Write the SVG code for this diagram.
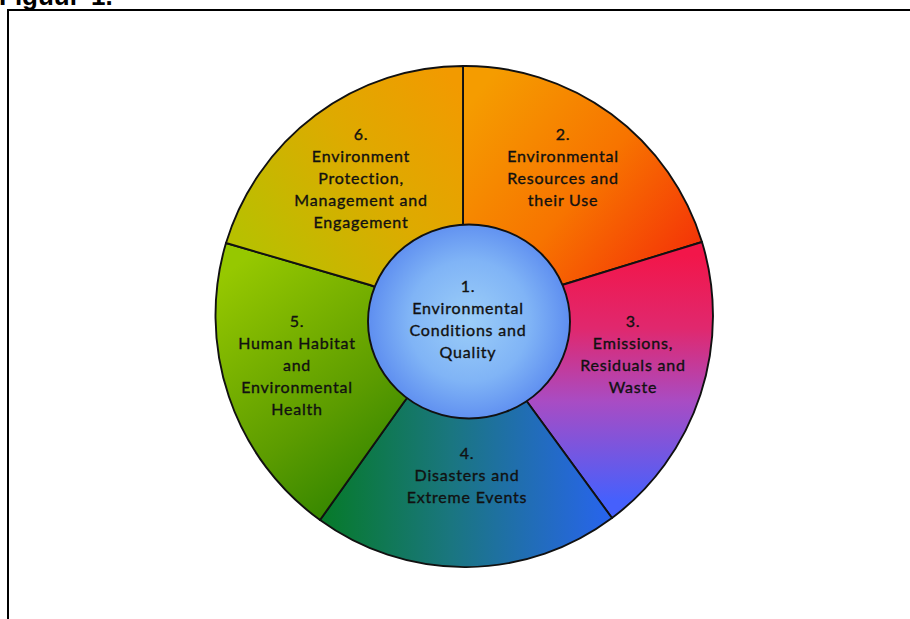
<svg xmlns="http://www.w3.org/2000/svg" width="910" height="619" viewBox="0 0 910 619">
<style>
.seg{stroke:#111;stroke-width:1.9;stroke-linejoin:round}
.lbl{font-family:Lato,"Open Sans",sans-serif;font-size:16px;letter-spacing:0.8px;fill:#111;stroke:#111;stroke-width:0.35px;text-anchor:middle}
.title{font-family:"Liberation Sans",Arial,sans-serif;font-weight:bold;font-size:26px;fill:#000}
</style>
<defs>
<linearGradient id="g2" gradientUnits="userSpaceOnUse" x1="480" y1="90" x2="700" y2="270">
<stop offset="0" stop-color="#f59c00"/><stop offset="0.5" stop-color="#f77400"/><stop offset="1" stop-color="#f42c08"/>
</linearGradient>
<linearGradient id="g3" gradientUnits="userSpaceOnUse" x1="0" y1="255" x2="0" y2="500">
<stop offset="0" stop-color="#f2164a"/><stop offset="0.3" stop-color="#e0286e"/><stop offset="0.6" stop-color="#a84cc4"/><stop offset="1" stop-color="#4660fc"/>
</linearGradient>
<linearGradient id="g4" gradientUnits="userSpaceOnUse" x1="320" y1="0" x2="612" y2="0">
<stop offset="0" stop-color="#067a28"/><stop offset="0.45" stop-color="#1a7680"/><stop offset="1" stop-color="#2864ee"/>
</linearGradient>
<linearGradient id="g5" gradientUnits="userSpaceOnUse" x1="230" y1="270" x2="400" y2="500">
<stop offset="0" stop-color="#96c800"/><stop offset="0.6" stop-color="#5c9c00"/><stop offset="1" stop-color="#2a8000"/>
</linearGradient>
<linearGradient id="g6" gradientUnits="userSpaceOnUse" x1="250" y1="250" x2="460" y2="90">
<stop offset="0" stop-color="#b8c000"/><stop offset="0.55" stop-color="#deaa00"/><stop offset="1" stop-color="#f29a00"/>
</linearGradient>
<radialGradient id="g1" gradientUnits="userSpaceOnUse" cx="469" cy="321" r="101">
<stop offset="0" stop-color="#9ccef8"/><stop offset="0.6" stop-color="#80b4f6"/><stop offset="1" stop-color="#5e8ef0"/>
</radialGradient>
</defs>
<text class="title" x="-1" y="5">Figuur<tspan x="91">1.</tspan></text>
<path d="M8 625 L8 10 L915 10" fill="none" stroke="#000" stroke-width="2"/>
<g id="connectors"></g>
<g id="node2"><path class="seg" fill="url(#g2)" d="M466 320 L463 224 L463 66 A248 251 0 0 1 702 242 L562 285 Z"/>
<text class="lbl"><tspan x="563" y="140">2.</tspan><tspan x="563" y="162">Environmental</tspan><tspan x="563" y="184">Resources and</tspan><tspan x="563" y="206">their Use</tspan></text></g>
<g id="node3"><path class="seg" fill="url(#g3)" d="M466 320 L562 285 L702 242 A248 251 0 0 1 612 518 L528 403 Z"/>
<text class="lbl"><tspan x="633" y="327">3.</tspan><tspan x="633" y="349">Emissions,</tspan><tspan x="633" y="371">Residuals and</tspan><tspan x="633" y="393">Waste</tspan></text></g>
<g id="node4"><path class="seg" fill="url(#g4)" d="M466 320 L528 403 L612 518 A248 251 0 0 1 320 520 L404 402 Z"/>
<text class="lbl"><tspan x="467" y="459">4.</tspan><tspan x="467" y="481">Disasters and</tspan><tspan x="467" y="503">Extreme Events</tspan></text></g>
<g id="node5"><path class="seg" fill="url(#g5)" d="M466 320 L404 402 L320 520 A248 251 0 0 1 226 243 L370 285 Z"/>
<text class="lbl"><tspan x="297" y="327">5.</tspan><tspan x="297" y="349">Human Habitat</tspan><tspan x="297" y="371">and</tspan><tspan x="297" y="393">Environmental</tspan><tspan x="297" y="415">Health</tspan></text></g>
<g id="node6"><path class="seg" fill="url(#g6)" d="M466 320 L370 285 L226 243 A248 251 0 0 1 463 66 L463 224 Z"/>
<text class="lbl"><tspan x="361" y="140">6.</tspan><tspan x="361" y="162">Environment</tspan><tspan x="361" y="184">Protection,</tspan><tspan x="361" y="206">Management and</tspan><tspan x="361" y="228">Engagement</tspan></text></g>
<g id="node1"><ellipse class="seg" fill="url(#g1)" cx="469" cy="321.5" rx="101" ry="97"/>
<text class="lbl"><tspan x="468" y="292">1.</tspan><tspan x="468" y="314">Environmental</tspan><tspan x="468" y="336">Conditions and</tspan><tspan x="468" y="358">Quality</tspan></text></g>
</svg>
